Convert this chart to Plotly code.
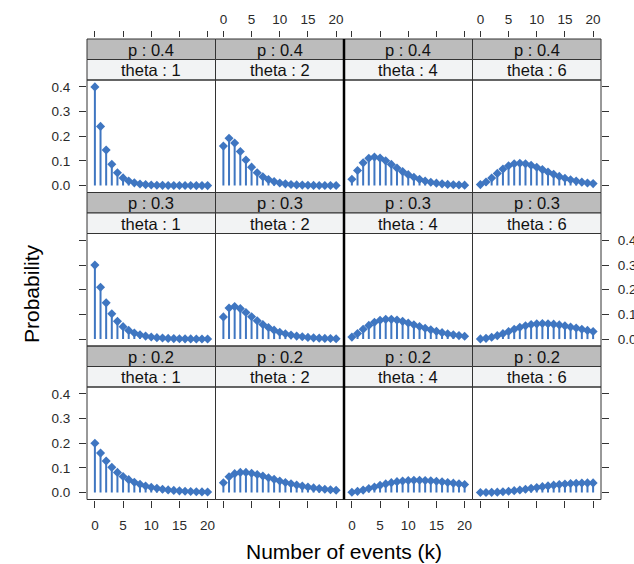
import plotly.graph_objects as go

# ---------------- data ----------------
k_values = list(range(21))
p_levels = ["0.4", "0.3", "0.2"]          # rows, top to bottom
theta_levels = ["1", "2", "4", "6"]       # columns, left to right
x_tick_vals = [0, 5, 10, 15, 20]
y_tick_vals = [0.0, 0.1, 0.2, 0.3, 0.4]
y_tick_text = ["0.0", "0.1", "0.2", "0.3", "0.4"]

p04_theta1 = [0.400, 0.240, 0.144, 0.0864, 0.0518, 0.0311, 0.0187, 0.0112, 0.0067, 0.0040, 0.0024,
              0.0015, 0.0009, 0.0005, 0.0003, 0.0002, 0.0001, 0.0001, 0.0000, 0.0000, 0.0000]
p04_theta2 = [0.160, 0.192, 0.1728, 0.1382, 0.1037, 0.0747, 0.0523, 0.0358, 0.0242, 0.0161, 0.0106,
              0.0070, 0.0045, 0.0029, 0.0019, 0.0012, 0.0008, 0.0005, 0.0003, 0.0002, 0.0001]
p04_theta4 = [0.0256, 0.0614, 0.0922, 0.1106, 0.1161, 0.1115, 0.1003, 0.0860, 0.0709, 0.0568, 0.0443,
              0.0338, 0.0254, 0.0187, 0.0136, 0.0098, 0.0070, 0.0049, 0.0035, 0.0024, 0.0017]
p04_theta6 = [0.0041, 0.0147, 0.0310, 0.0495, 0.0669, 0.0803, 0.0883, 0.0908, 0.0885, 0.0826, 0.0744,
              0.0649, 0.0552, 0.0458, 0.0373, 0.0299, 0.0235, 0.0183, 0.0140, 0.0106, 0.0080]

p03_theta1 = [0.300, 0.210, 0.147, 0.1029, 0.0720, 0.0504, 0.0353, 0.0247, 0.0173, 0.0121, 0.0085,
              0.0059, 0.0042, 0.0029, 0.0020, 0.0014, 0.0010, 0.0007, 0.0005, 0.0003, 0.0002]
p03_theta2 = [0.090, 0.126, 0.1323, 0.1235, 0.1080, 0.0908, 0.0741, 0.0593, 0.0467, 0.0363, 0.0280,
              0.0214, 0.0162, 0.0122, 0.0092, 0.0068, 0.0051, 0.0038, 0.0028, 0.0021, 0.0015]
p03_theta4 = [0.0081, 0.0227, 0.0397, 0.0556, 0.0681, 0.0762, 0.0800, 0.0800, 0.0770, 0.0719, 0.0654,
              0.0583, 0.0510, 0.0439, 0.0374, 0.0314, 0.0261, 0.0215, 0.0175, 0.0142, 0.0114]
p03_theta6 = [0.0007, 0.0031, 0.0075, 0.0140, 0.0221, 0.0309, 0.0396, 0.0475, 0.0541, 0.0589, 0.0618,
              0.0630, 0.0624, 0.0605, 0.0575, 0.0537, 0.0493, 0.0447, 0.0399, 0.0353, 0.0309]

p02_theta1 = [0.200, 0.160, 0.128, 0.1024, 0.0819, 0.0655, 0.0524, 0.0419, 0.0336, 0.0268, 0.0215,
              0.0172, 0.0137, 0.0110, 0.0088, 0.0070, 0.0056, 0.0045, 0.0036, 0.0029, 0.0023]
p02_theta2 = [0.040, 0.064, 0.0768, 0.0819, 0.0819, 0.0786, 0.0734, 0.0671, 0.0604, 0.0537, 0.0472,
              0.0412, 0.0357, 0.0308, 0.0264, 0.0225, 0.0191, 0.0162, 0.0137, 0.0115, 0.0097]
p02_theta4 = [0.0016, 0.0051, 0.0102, 0.0164, 0.0229, 0.0294, 0.0352, 0.0403, 0.0443, 0.0472, 0.0491,
              0.0500, 0.0500, 0.0493, 0.0479, 0.0459, 0.0436, 0.0411, 0.0383, 0.0355, 0.0327]
p02_theta6 = [0.0001, 0.0003, 0.0009, 0.0018, 0.0033, 0.0053, 0.0078, 0.0106, 0.0138, 0.0172, 0.0206,
              0.0240, 0.0272, 0.0301, 0.0327, 0.0349, 0.0367, 0.0380, 0.0388, 0.0392, 0.0392]

panel_values = [
    [p04_theta1, p04_theta2, p04_theta4, p04_theta6],
    [p03_theta1, p03_theta2, p03_theta4, p03_theta6],
    [p02_theta1, p02_theta2, p02_theta4, p02_theta6],
]

# ---------------- layout geometry (pixels) ----------------
W, H = 634, 564
COL_L = [87, 215.5, 344, 472.5]
COL_W = 128.5
ROW_TOP = [39, 192.5, 346]
STRIP_H = 20.5
PANEL_H = 112.5

BLUE = "#3f76c1"
AXC = "#333333"
FONT = "Liberation Sans, Arial, sans-serif"
tickfont = dict(family=FONT, size=13.5, color="#2a2a2a")


def fx(px):
    return px / W


def fy(py):
    return 1 - py / H


fig = go.Figure()
layout = dict(width=W, height=H, margin=dict(l=0, r=0, t=0, b=0, autoexpand=False),
              paper_bgcolor="white", plot_bgcolor="white", showlegend=False)
shapes = []
annotations = []

for r in range(3):
    for c in range(4):
        n = r * 4 + c + 1
        sx = "" if n == 1 else str(n)
        vals = panel_values[r][c]
        fig.add_trace(go.Scatter(
            x=k_values, y=vals, mode="markers",
            xaxis="x" + sx, yaxis="y" + sx,
            marker=dict(symbol="diamond", size=7, color=BLUE, line=dict(width=0)),
            error_y=dict(type="data", symmetric=False, array=[0] * len(vals),
                         arrayminus=vals, width=0, thickness=2, color=BLUE),
            hoverinfo="skip", cliponaxis=False,
        ))

        x0, x1 = COL_L[c], COL_L[c] + COL_W
        strip_top = ROW_TOP[r]
        ptop = strip_top + 2 * STRIP_H
        pbot = ptop + PANEL_H

        xa = dict(domain=[fx(x0), fx(x1)], range=[-1.4, 21.4], tickvals=x_tick_vals,
                  showgrid=False, zeroline=False, showline=False, ticks="",
                  showticklabels=False, tickfont=tickfont, ticklen=6,
                  tickcolor=AXC, tickwidth=1, fixedrange=True, automargin=False)
        if r == 0:
            xa.update(anchor="free", position=fy(37), side="top", ticks="outside",
                      showticklabels=(c in (1, 3)), ticklabelstandoff=2)
        elif r == 2:
            xa.update(anchor="y" + sx, side="bottom", ticks="outside", ticklen=7,
                      showticklabels=(c in (0, 2)), ticklabelstandoff=6)
        else:
            xa.update(anchor="y" + sx)

        ya = dict(domain=[fy(pbot), fy(ptop)], range=[-0.028, 0.428], tickvals=y_tick_vals,
                  ticktext=y_tick_text, anchor="x" + sx, showgrid=False, zeroline=False,
                  showline=False, ticks="", showticklabels=False, tickfont=tickfont,
                  ticklen=7, tickcolor=AXC, tickwidth=1, fixedrange=True, automargin=False)
        if c == 0:
            ya.update(side="left", ticks="outside", showticklabels=(r in (0, 2)),
                      ticklabelstandoff=6)
        elif c == 3:
            ya.update(side="right", ticks="outside", showticklabels=(r == 1),
                      ticklabelstandoff=6)

        layout["xaxis" + sx] = xa
        layout["yaxis" + sx] = ya

        # strips
        shapes.append(dict(type="rect", xref="paper", yref="paper",
                           x0=fx(x0), x1=fx(x1), y0=fy(strip_top + STRIP_H), y1=fy(strip_top),
                           fillcolor="#bcbcbc", line=dict(color=AXC, width=1), layer="below"))
        shapes.append(dict(type="rect", xref="paper", yref="paper",
                           x0=fx(x0), x1=fx(x1), y0=fy(ptop), y1=fy(strip_top + STRIP_H),
                           fillcolor="#f2f3f4", line=dict(color=AXC, width=1), layer="below"))
        # panel border
        shapes.append(dict(type="rect", xref="paper", yref="paper",
                           x0=fx(x0), x1=fx(x1), y0=fy(pbot), y1=fy(ptop),
                           fillcolor="rgba(0,0,0,0)", line=dict(color=AXC, width=1), layer="above"))

        annotations.append(dict(xref="paper", yref="paper", x=fx((x0 + x1) / 2),
                                y=fy(strip_top + STRIP_H / 2 + 0.5),
                                text="p : " + p_levels[r], showarrow=False,
                                xanchor="center", yanchor="middle",
                                font=dict(family=FONT, size=16.5, color="#111111")))
        annotations.append(dict(xref="paper", yref="paper", x=fx((x0 + x1) / 2),
                                y=fy(strip_top + 1.5 * STRIP_H + 0.5),
                                text="theta : " + theta_levels[c], showarrow=False,
                                xanchor="center", yanchor="middle",
                                font=dict(family=FONT, size=16.5, color="#111111")))

# thick separator between 2nd and 3rd columns
shapes.append(dict(type="line", xref="paper", yref="paper",
                   x0=fx(344), x1=fx(344), y0=fy(499.5), y1=fy(39),
                   line=dict(color="black", width=2.5), layer="above"))

annotations.append(dict(xref="paper", yref="paper", x=fx(31), y=fy(294),
                        text="Probability", textangle=-90, showarrow=False,
                        xanchor="center", yanchor="middle",
                        font=dict(family=FONT, size=21, color="black")))
annotations.append(dict(xref="paper", yref="paper", x=fx(344), y=fy(551),
                        text="Number of events (k)", showarrow=False,
                        xanchor="center", yanchor="middle",
                        font=dict(family=FONT, size=21, color="black")))

layout["shapes"] = shapes
layout["annotations"] = annotations
fig.update_layout(**layout)
fig.write_html("out.html", config={"displayModeBar": False},
               post_script="document.body.style.margin='0px';document.body.style.padding='0px';")
